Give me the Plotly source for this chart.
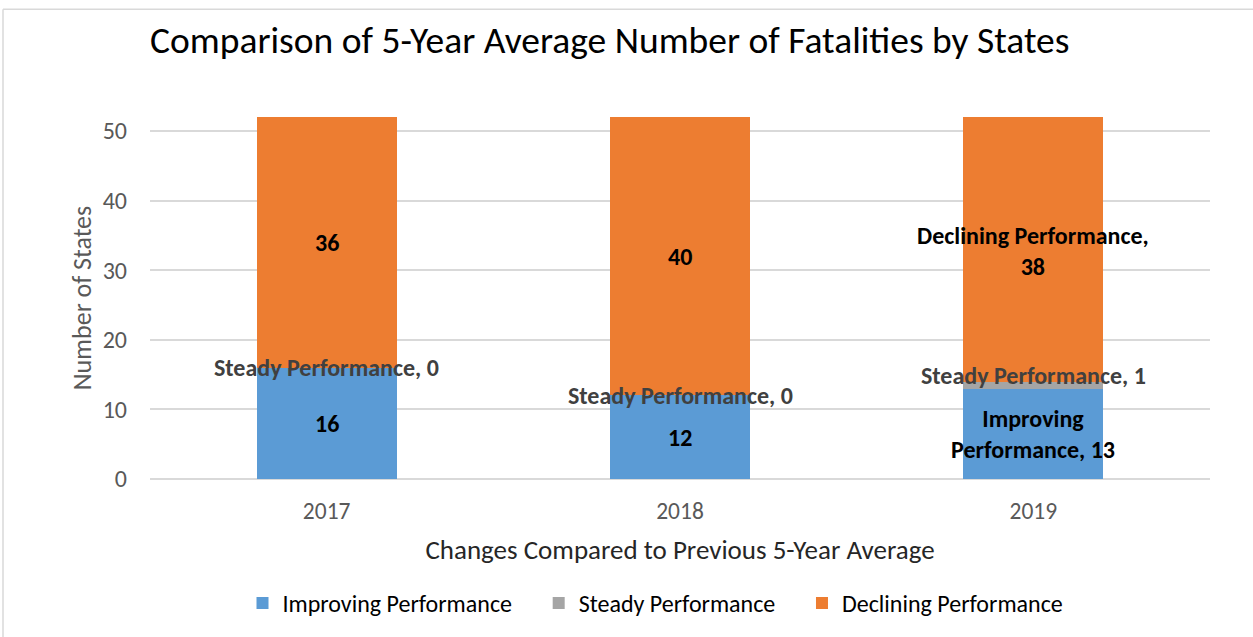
import plotly.graph_objects as go

years = ["2017", "2018", "2019"]
improving = [16, 12, 13]
steady = [0, 0, 1]
declining = [36, 40, 38]
series_names = ["Improving Performance", "Steady Performance", "Declining Performance"]
colors = ["#5B9BD5", "#A5A5A5", "#ED7D31"]

FONT = "Carlito, Lato, sans-serif"
PAD = "\u00a0" * 4  # extra spacing between legend entries

fig = go.Figure()
for name, vals, col in zip(series_names, [improving, steady, declining], colors):
    fig.add_trace(go.Bar(x=years, y=vals, name=name + PAD, hovertext=name,
                         marker=dict(color=col, line=dict(width=0))))

# data labels
for i, yr in enumerate(years):
    base = 0
    for s, (name, vals) in enumerate(zip(series_names, [improving, steady, declining])):
        v = vals[i]
        center = base + v / 2
        base += v
        show_name = (s == 1) or (yr == "2019")
        if show_name:
            if s == 1:
                text = f"{name}, {v}"
            else:
                parts = name.split(" ")
                if s == 0:
                    text = f"{parts[0]}<br>{parts[1]}, {v}"
                else:
                    text = f"{name},<br>{v}"
        else:
            text = str(v)
        color = "#404040" if s == 1 else "#000000"
        yshift = 10 if (s == 1 and v > 0) else 0
        if s == 2 and yr == "2019":
            yshift = -2
        fig.add_annotation(x=i, y=center, text=f"<b>{text}</b>", showarrow=False,
                           font=dict(family=FONT, size=24, color=color), yshift=yshift)

fig.update_layout(
    barmode="stack",
    bargap=0.603,
    width=1253, height=637,
    margin=dict(l=150, r=43, t=117, b=157),
    paper_bgcolor="white", plot_bgcolor="white",
    font=dict(family=FONT, color="#595959"),
    title=dict(text="Comparison of 5-Year Average Number of Fatalities by States",
               x=150 / 1253, xanchor="left", y=1 - 40 / 637, yanchor="middle",
               font=dict(family=FONT, size=37.5, color="#000000")),
    legend=dict(orientation="h", x=(666 - 150) / 1060, xanchor="center", y=-0.34, yanchor="middle",
                font=dict(family=FONT, size=24, color="#000000"),
                traceorder="normal", itemwidth=30, itemsizing="constant"),
    xaxis=dict(type="category", range=[-0.5, 2.5], showgrid=False, showline=False, ticks="",
               ticklabelstandoff=15,
               tickfont=dict(family=FONT, size=23.5, color="#595959"),
               title=dict(text="Changes Compared to Previous 5-Year Average",
                          font=dict(family=FONT, size=27, color="#262626"), standoff=16)),
    yaxis=dict(range=[0, 52], tickvals=[0, 10, 20, 30, 40, 50], showgrid=True,
               gridcolor="#D9D9D9", gridwidth=1.5, zeroline=True, zerolinecolor="#D9D9D9",
               zerolinewidth=1.5, showline=False, ticks="", ticklabelstandoff=22,
               tickfont=dict(family=FONT, size=24, color="#595959"),
               title=dict(text="Number of States", font=dict(family=FONT, size=26, color="#595959"),
                          standoff=3)),
)

# chart border (top and left edges visible)
fig.add_shape(type="line", xref="paper", yref="paper",
              x0=(3 - 150) / 1060, x1=(1260 - 150) / 1060, y0=(480 - 9) / 363, y1=(480 - 9) / 363,
              line=dict(color="#D9D9D9", width=1.5))
fig.add_shape(type="line", xref="paper", yref="paper",
              x0=(3 - 150) / 1060, x1=(3 - 150) / 1060, y0=(480 - 9) / 363, y1=(480 - 645) / 363,
              line=dict(color="#D9D9D9", width=1.5))

fig.write_html("out.html", config={"displayModeBar": False},
               post_script="document.body.style.margin='0';")
